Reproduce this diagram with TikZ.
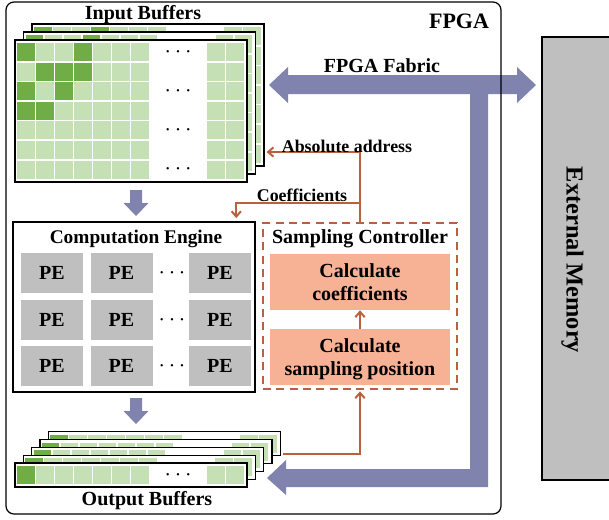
\documentclass[tikz,border=0pt]{standalone}
\usepackage{fontspec}
\setmainfont{Liberation Serif}
\usetikzlibrary{calc,arrows.meta,positioning}
\definecolor{fabric}{RGB}{127,131,173}
\definecolor{lgreen}{RGB}{197,224,180}
\definecolor{dgreen}{RGB}{112,173,71}
\definecolor{pegray}{RGB}{191,191,191}
\definecolor{salmon}{RGB}{247,177,148}
\definecolor{ctrl}{RGB}{185,97,62}
\tikzset{
    boxsize/.style 2 args={minimum width=#1*0.75pt,minimum height=#2*0.75pt},
    lab/.style={font=\bfseries\fontsize{15}{17}\selectfont,inner sep=0pt,text depth=0pt},
    arrlab/.style={font=\bfseries\fontsize{13.4}{15}\selectfont,inner sep=0pt,text depth=0pt},
    sheet/.style={draw,fill=white,line width=0.9pt,boxsize={232}{142},inner sep=0pt},
    strip/.style={draw,fill=white,line width=0.9pt,boxsize={232}{24},inner sep=0pt},
    pe/.style={lab,fill=pegray,boxsize={62}{40}},
    calcbox/.style={lab,fill=salmon,boxsize={180}{56},align=center},
    ctl/.style={ctrl,line width=1.5pt,-{Straight Barb[length=4pt,width=7pt]}},
    dotrow/.style={inner sep=0pt,font=\fontsize{17}{17}\selectfont},
    downarr/.pic={\fill[fabric] (-6,0) -- (6,0) -- (6,13) -- (12.5,13) -- (0,26) -- (-12.5,13) -- (-6,13) -- cycle;},
}
\begin{document}
\begin{tikzpicture}[x=0.75pt,y=-0.75pt]
	\useasboundingbox (0,0) rectangle (609,519);
	%FPGA FABRIC BUS
	\fill[fabric] (269,85) -- (288,67) -- (288,75) -- (517,75) -- (517,67) -- (536,85) -- (517,103) -- (517,94)
	   -- (488,94) -- (488,487) -- (286,487) -- (286,495) -- (267,478) -- (286,460) -- (286,469)
	   -- (470,469) -- (470,94) -- (288,94) -- (288,103) -- cycle;
	%FPGA, EXTERNAL MEMORY
	\node[draw,line width=0.9pt,rounded corners=6pt,boxsize={495}{512}] (fpga) at (253.5,258) {};
	\node[draw,fill=pegray,line width=1pt,boxsize={80}{443}] (mem) at (582,258.5) {};
	\node[lab,font=\bfseries\fontsize{18.3}{20}\selectfont,rotate=-90] (memlab) at (575,260) {External Memory};
	%INPUT BUFFERS
	\foreach \k in {2,1,0}{
	  \begin{scope}[shift={(8.5*\k,-8*\k)}]
	    \node[sheet] (ib\k) at (131,111) {};
	    \foreach \c in {0,...,6,10,11}
	      \foreach \r in {0,...,6}
	        \fill[lgreen] ({17+19*\c},{43+19.6*\r}) rectangle ++(17.5,18);
	    \foreach \c/\r in {0/0,3/0,1/1,2/1,3/1,0/2,2/2,0/3,1/3}
	      \fill[dgreen] ({17+19*\c},{43+19.6*\r}) rectangle ++(17.5,18);
	  \end{scope}
	}
	\foreach \r in {0,2,4,6}
	  \node[dotrow] (ibd\r) at (178,{52+19.6*\r}) {$\cdots$};
	\pic (inarr) at (136,190) {downarr};
	%COMPUTATION ENGINE
	\node[draw,line width=1.9pt,boxsize={242}{170}] (CE) at (134,307) {};
	\node[lab,font=\bfseries\fontsize{14.5}{17}\selectfont] (CEt) at (136,237) {Computation Engine};
	\foreach \c/\x in {1/52,2/121.5,3/220}
	  \foreach \r/\y in {1/273,2/320,3/366}
	    \node[pe] (pe\r\c) at (\x,\y) {PE};
	\foreach \r/\y in {1/273,2/320,3/366}
	  \node[dotrow] (ped\r) at (172,\y) {$\cdots$};
	\pic (outarr) at (136,398) {downarr};
	%SAMPLING CONTROLLER
	\node[draw=ctrl,line width=1.5pt,dash pattern=on 6pt off 4pt,boxsize={194}{166}] (SC) at (360,306) {};
	\node[lab] (SCt) at (360,237) {Sampling Controller};
	\node[calcbox] (coef) at (360,282) {Calculate\\coefficients};
	\node[calcbox] (pos) at (360,357) {Calculate\\sampling position};
	%CONTROL ARROWS
	\draw[ctl] (pos) -- (coef);
	\draw[ctl,shorten >=1.5pt] (SC.north) -- ++(0,-70) coordinate (addr) -- (addr -| ib2.east);
	\draw[ctl,shorten >=2pt] ($(SC.north)+(0,-19)$) coordinate (cf) -| ($(CE.north east)+(-20,0)$);
	\node[arrlab] (addrlab) at (347,146) {Absolute address};
	\node[arrlab] (cflab) at (302,195) {Coefficients};
	%OUTPUT BUFFERS
	\foreach \k in {4,3,2,1,0}{
	  \begin{scope}[shift={(8.3*\k,-7.8*\k)}]
	    \node[strip] (ob\k) at (131,475) {};
	    \foreach \c in {0,...,6,10,11}
	      \fill[lgreen] ({17+19*\c},466) rectangle ++(17.5,18);
	    \fill[dgreen] (17,466) rectangle ++(17.5,18);
	  \end{scope}
	}
	\node[dotrow] (obd) at (178,475) {$\cdots$};
	\coordinate (obtap) at (283,454);
	\draw[ctl,shorten >=1pt] (obtap) -| (SC.south);
	%LABELS
	\node[lab] (inlab) at (143,12) {Input Buffers};
	\node[lab] (outlab) at (147,498) {Output Buffers};
	\node[lab,font=\bfseries\fontsize{16.5}{18}\selectfont] (fpgalab) at (459,21) {FPGA};
	\node[lab] (fablab) at (382,66) {FPGA Fabric};
\end{tikzpicture}
\end{document}
